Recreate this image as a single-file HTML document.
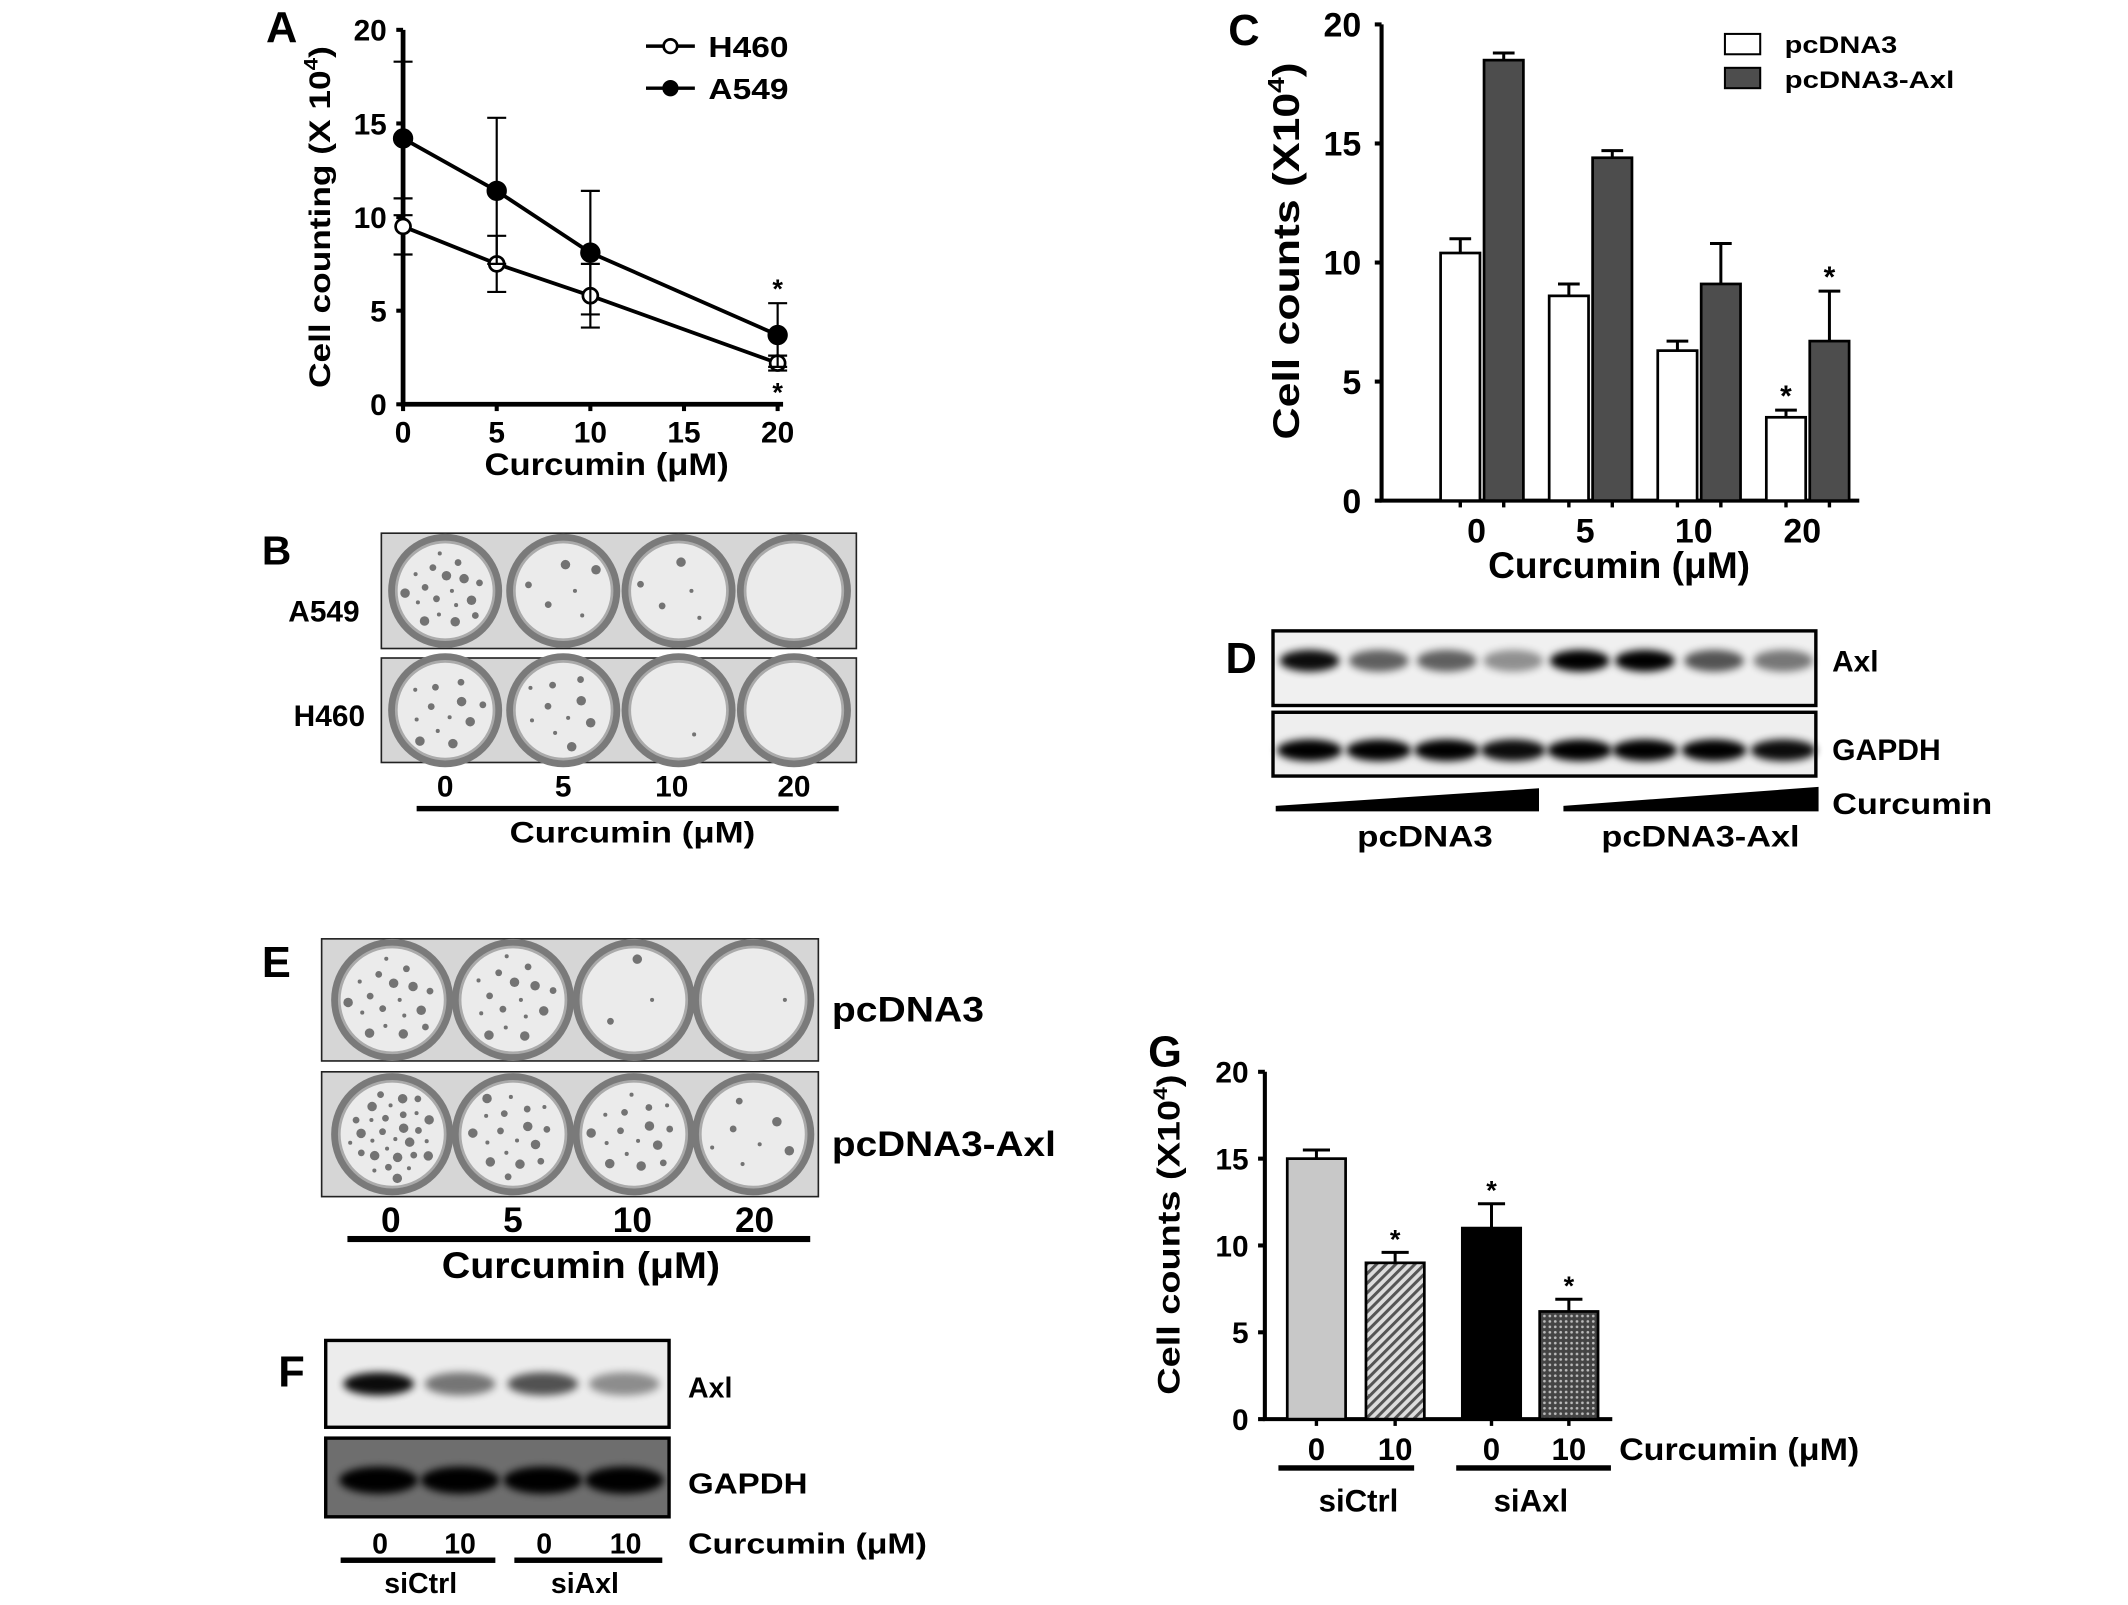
<!DOCTYPE html>
<html><head><meta charset="utf-8"><style>
html,body{margin:0;padding:0;background:#fff;}
svg{display:block;}
text{font-family:"Liberation Sans",Arial,sans-serif;font-weight:bold;fill:#000;}
</style></head><body>
<svg id="fig" width="2128" height="1605" viewBox="0 0 1568 1183" preserveAspectRatio="none" xmlns="http://www.w3.org/2000/svg">
<defs>
<filter id="blur2" x="-50%" y="-100%" width="200%" height="300%"><feGaussianBlur stdDeviation="3"/></filter>
<pattern id="hatch" width="5" height="5" patternUnits="userSpaceOnUse" patternTransform="rotate(45)"><rect width="5" height="5" fill="#ddd"/><rect width="2.2" height="5" fill="#555"/></pattern>
<pattern id="dots" width="4" height="4" patternUnits="userSpaceOnUse"><rect width="4" height="4" fill="#444"/><circle cx="2" cy="2" r="1" fill="#bbb"/></pattern>
</defs>

<g id="panelA">
<text x="196" y="31" font-size="32">A</text>
<text transform="translate(243,160) rotate(-90)" font-size="22" text-anchor="middle" textLength="252" lengthAdjust="spacingAndGlyphs">Cell counting (X 10<tspan dy="-9" font-size="14">4</tspan><tspan dy="9">)</tspan></text>
<text x="447" y="350" font-size="23" text-anchor="middle" textLength="180" lengthAdjust="spacingAndGlyphs">Curcumin (μM)</text>
<line x1="476" y1="34" x2="512" y2="34" stroke="#000" stroke-width="2.5"/>
<circle cx="494" cy="34" r="5" fill="#fff" stroke="#000" stroke-width="2"/>
<text x="522" y="42" font-size="21" textLength="59" lengthAdjust="spacingAndGlyphs">H460</text>
<line x1="476" y1="65" x2="512" y2="65" stroke="#000" stroke-width="2.5"/>
<circle cx="494" cy="65" r="6" fill="#000"/>
<text x="522" y="73" font-size="21" textLength="59" lengthAdjust="spacingAndGlyphs">A549</text>
</g>

<g id="panelB">
<text x="193" y="416" font-size="30">B</text>
<text x="265" y="458" font-size="22" text-anchor="end">A549</text>
<text x="269" y="535" font-size="22" text-anchor="end">H460</text>
<g id="bplates"></g>
<text x="328" y="587" font-size="22" text-anchor="middle">0</text>
<text x="415" y="587" font-size="22" text-anchor="middle">5</text>
<text x="495" y="587" font-size="22" text-anchor="middle">10</text>
<text x="585" y="587" font-size="22" text-anchor="middle">20</text>
<rect x="307" y="594" width="311" height="4" fill="#000"/>
<text x="466" y="621" font-size="22" text-anchor="middle" textLength="181" lengthAdjust="spacingAndGlyphs">Curcumin (μM)</text>
</g>

<g id="panelC">
<text x="905" y="33" font-size="32">C</text>
<text transform="translate(957,185) rotate(-90)" font-size="27" text-anchor="middle" textLength="278" lengthAdjust="spacingAndGlyphs">Cell counts (X10<tspan dy="-11" font-size="17">4</tspan><tspan dy="11">)</tspan></text>
<text x="1193" y="426" font-size="27" text-anchor="middle" textLength="193" lengthAdjust="spacingAndGlyphs">Curcumin (μM)</text>
<rect x="1271" y="25" width="26" height="15" fill="#fff" stroke="#000" stroke-width="1.5"/>
<text x="1315" y="39" font-size="18" textLength="83" lengthAdjust="spacingAndGlyphs">pcDNA3</text>
<rect x="1271" y="50" width="26" height="15" fill="#4d4d4d" stroke="#000" stroke-width="1.5"/>
<text x="1315" y="65" font-size="18" textLength="125" lengthAdjust="spacingAndGlyphs">pcDNA3-Axl</text>
</g>

<g id="panelD">
<text x="903" y="496" font-size="32">D</text>
<rect x="938" y="465" width="400" height="55" fill="#f0f0f0" stroke="#000" stroke-width="2.5"/>
<rect x="938" y="525" width="400" height="47" fill="#eee" stroke="#000" stroke-width="2.5"/>
<g id="dbands"></g>
<text x="1350" y="495" font-size="22">Axl</text>
<text x="1350" y="560" font-size="22" textLength="80" lengthAdjust="spacingAndGlyphs">GAPDH</text>
<path d="M940,594 L940,598 L1134,598 L1134,581 Z" fill="#000"/>
<path d="M1152,594 L1152,598 L1340,598 L1340,580 Z" fill="#000"/>
<text x="1350" y="600" font-size="22" textLength="118" lengthAdjust="spacingAndGlyphs">Curcumin</text>
<text x="1050" y="624" font-size="22" text-anchor="middle" textLength="100" lengthAdjust="spacingAndGlyphs">pcDNA3</text>
<text x="1253" y="624" font-size="22" text-anchor="middle" textLength="146" lengthAdjust="spacingAndGlyphs">pcDNA3-Axl</text>
</g>

<g id="panelE">
<text x="193" y="720" font-size="32">E</text>
<g id="eplates"></g>
<text x="613" y="753" font-size="26" textLength="112" lengthAdjust="spacingAndGlyphs">pcDNA3</text>
<text x="613" y="852" font-size="26" textLength="165" lengthAdjust="spacingAndGlyphs">pcDNA3-Axl</text>
<text x="288" y="908" font-size="26" text-anchor="middle">0</text>
<text x="378" y="908" font-size="26" text-anchor="middle">5</text>
<text x="466" y="908" font-size="26" text-anchor="middle">10</text>
<text x="556" y="908" font-size="26" text-anchor="middle">20</text>
<rect x="256" y="911" width="341" height="4.5" fill="#000"/>
<text x="428" y="942" font-size="27" text-anchor="middle" textLength="205" lengthAdjust="spacingAndGlyphs">Curcumin (μM)</text>
</g>

<g id="panelF">
<text x="205" y="1022" font-size="32">F</text>
<rect x="240" y="988" width="253" height="64" fill="#ececec" stroke="#000" stroke-width="2.5"/>
<rect x="240" y="1060" width="253" height="58" fill="#6e6e6e" stroke="#000" stroke-width="2.5"/>
<g id="fbands"></g>
<text x="507" y="1030" font-size="21">Axl</text>
<text x="507" y="1101" font-size="21" textLength="88" lengthAdjust="spacingAndGlyphs">GAPDH</text>
<text x="280" y="1145" font-size="21" text-anchor="middle">0</text>
<text x="339" y="1145" font-size="21" text-anchor="middle">10</text>
<text x="401" y="1145" font-size="21" text-anchor="middle">0</text>
<text x="461" y="1145" font-size="21" text-anchor="middle">10</text>
<text x="507" y="1145" font-size="21" textLength="176" lengthAdjust="spacingAndGlyphs">Curcumin (μM)</text>
<rect x="251" y="1148" width="114" height="4" fill="#000"/>
<rect x="379" y="1148" width="109" height="4" fill="#000"/>
<text x="310" y="1174" font-size="21" text-anchor="middle">siCtrl</text>
<text x="431" y="1174" font-size="21" text-anchor="middle">siAxl</text>
</g>

<g id="panelG">
<text x="846" y="786" font-size="32">G</text>
<text transform="translate(869,910) rotate(-90)" font-size="23" text-anchor="middle" textLength="236" lengthAdjust="spacingAndGlyphs">Cell counts (X10<tspan dy="-9" font-size="14">4</tspan><tspan dy="9">)</tspan></text>
<text x="1193" y="1076" font-size="23" textLength="177" lengthAdjust="spacingAndGlyphs">Curcumin (μM)</text>
<rect x="942" y="1080" width="100" height="4" fill="#000"/>
<rect x="1073" y="1080" width="114" height="4" fill="#000"/>
<text x="1001" y="1114" font-size="23" text-anchor="middle">siCtrl</text>
<text x="1128" y="1114" font-size="23" text-anchor="middle">siAxl</text>
</g>
</svg>

<script>
// ---------- Panel A data ----------
const aDoses = [0, 5, 10, 20];
const aXTicks = [0, 5, 10, 15, 20];
const aYTicks = [0, 5, 10, 15, 20];
const aH460 = [9.5, 7.5, 5.8, 2.2];
const aH460Err = [1.5, 1.5, 1.7, 0.4];
const aA549 = [14.2, 11.4, 8.1, 3.7];
const aA549Err = [4.1, 3.9, 3.3, 1.7];
// ---------- Panel C data ----------
const cCategories = ["0", "5", "10", "20"];
const cPcdna3 = [10.4, 8.6, 6.3, 3.5];
const cPcdna3Err = [0.6, 0.5, 0.4, 0.3];
const cAxl = [18.5, 14.4, 9.1, 6.7];
const cAxlErr = [0.3, 0.3, 1.7, 2.1];
const cYTicks = [0, 5, 10, 15, 20];
const cStarWhite = [false, false, false, true];
const cStarDark = [false, false, false, true];
// ---------- Panel G data ----------
const gCategories = ["0", "10", "0", "10"];
const gValues = [15.0, 9.0, 11.0, 6.2];
const gErr = [0.5, 0.6, 1.4, 0.7];
const gStars = [false, true, true, true];
const gYTicks = [0, 5, 10, 15, 20];
// ---------- Blot intensities ----------
const dAxl = [0.95, 0.6, 0.6, 0.4, 1.0, 1.0, 0.65, 0.5];
const dGapdh = [1, 1, 1, 0.95, 1, 1, 1, 0.95];
const fAxl = [0.95, 0.5, 0.65, 0.4];
const fGapdh = [1, 1, 1, 1];

const NS = "http://www.w3.org/2000/svg";
const fig = document.getElementById('fig');
function mk(tag, attrs, parent) {
  const e = document.createElementNS(NS, tag);
  for (const k in attrs) e.setAttribute(k, attrs[k]);
  (parent || fig).appendChild(e);
  return e;
}

(function(){
  const g = document.getElementById('panelA');
  const x0 = 297, x1 = 573, y0 = 298, y1 = 22;
  const xs = v => x0 + v / 20 * (x1 - x0);
  const ys = v => y0 - v / 20 * (y0 - y1);
  const ax = mk('path', {d:`M${x0},${y1} L${x0},${y0} L${x1+4},${y0}`, fill:'none', stroke:'#000', 'stroke-width':3.5}, g);
  
  
  aYTicks.forEach(v => {
    const t = mk('line', {x1:x0-5, x2:x0, y1:ys(v), y2:ys(v), stroke:'#000','stroke-width':3}, g);
    
    
    const l = mk('text', {x:x0-12, y:ys(v)+8, 'font-size':22, 'text-anchor':'end'}, g);
    l.textContent = v;
    
    
  });
  aXTicks.forEach(v => {
    const t = mk('line', {x1:xs(v), x2:xs(v), y1:y0, y2:y0+5, stroke:'#000','stroke-width':3}, g);
    
    
    const l = mk('text', {x:xs(v), y:y0+28, 'font-size':22, 'text-anchor':'middle'}, g);
    l.textContent = v;
    
    
  });
  function series(vals, errs, filled, name) {
    errs.forEach((e, i) => {
      const x = xs(aDoses[i]);
      const eb = mk('path', {d:`M${x},${ys(vals[i]+e)} L${x},${ys(vals[i]-e)} M${x-7},${ys(vals[i]+e)} L${x+7},${ys(vals[i]+e)} M${x-7},${ys(vals[i]-e)} L${x+7},${ys(vals[i]-e)}`, stroke:'#000','stroke-width':1.6, fill:'none'}, g);
      
      
    });
    const pl = mk('polyline', {points: vals.map((v,i)=>xs(aDoses[i])+','+ys(v)).join(' '), fill:'none', stroke:'#000','stroke-width':2.8}, g);
    
    
    vals.forEach((v,i) => {
      const c = mk('circle', {cx:xs(aDoses[i]), cy:ys(v), r: filled?6.5:5.5, fill: filled?'#000':'#fff', stroke:'#000','stroke-width':2}, g);
      
      
    });
  }
  series(aH460, aH460Err, false, 'h460');
  series(aA549, aA549Err, true, 'a549');
  const s1 = mk('text', {x:xs(20), y:ys(aA549[3]+aA549Err[3])-4, 'font-size':20, 'text-anchor':'middle'}, g);
  s1.textContent = '*';
  
  
  const s2 = mk('text', {x:xs(20), y:ys(0)-2, 'font-size':20, 'text-anchor':'middle'}, g);
  s2.textContent = '*';
  
  
})();

function plates(parentId, rows, centers, rowNames, colonyCounts, diam) {
  const g = document.getElementById(parentId);
  rows.forEach((r, ri) => {
    const bg = mk('rect', {x:r.x, y:r.y, width:r.w, height:r.h, fill:'#d6d6d6', stroke:'#222','stroke-width':1.2}, g);
    
    
    centers.forEach((cx, ci) => {
      const cy = r.y + r.h/2;
      const rad = diam/2;
      const well = mk('circle', {cx:cx, cy:cy, r:rad, fill:'#7a7a7a'}, g);
      
      
      const inner = mk('circle', {cx:cx, cy:cy, r:rad-6, fill:'#ebebeb', stroke:'#aaa','stroke-width':2}, g);
      
      
      const n = colonyCounts[ri][ci];
      for (let k = 0; k < n; k++) {
        const ang = k * 2.399 + ri, rr = (rad-12) * Math.sqrt((k+0.5)/Math.max(n,1));
        const col = mk('circle', {cx:cx + rr*Math.cos(ang), cy:cy + rr*Math.sin(ang), r: 1.5 + (k%3), fill:'#555', opacity:0.8}, g);
        
        
      }
    });
  });
}
plates('bplates', [{x:281,y:393,w:350,h:85},{x:281,y:485,w:350,h:77}], [328,415,500,585], ['a549','h460'], [[18,6,5,0],[12,10,1,0]], 84);
plates('eplates', [{x:237,y:692,w:366,h:90},{x:237,y:790,w:366,h:92}], [289,378,467,555], ['pcdna3','pcdna3-axl'], [[18,16,3,1],[30,18,16,7]], 90);

(function(){
  const g = document.getElementById('panelC');
  const x0 = 1018, x1 = 1370, y0 = 369, y1 = 18;
  const ys = v => y0 - v/20*(y0-y1);
  const groupX = i => 1092 + i*80;
  const bw = 29;
  const ax = mk('path', {d:`M${x0},${y1} L${x0},${y0} L${x1},${y0}`, fill:'none', stroke:'#000','stroke-width':3}, g);
  
  
  cYTicks.forEach(v => {
    const t = mk('line', {x1:x0-5,x2:x0,y1:ys(v),y2:ys(v),stroke:'#000','stroke-width':3}, g);
    
    
    const l = mk('text', {x:x0-15, y:ys(v)+9, 'font-size':25, 'text-anchor':'end'}, g);
    l.textContent = v;
    
    
  });
  function bar(cx, v, e, fill, name, star) {
    const top = ys(v + e);
    const eb = mk('path', {d:`M${cx},${ys(v)} L${cx},${top} M${cx-8},${top} L${cx+8},${top}`, stroke:'#000','stroke-width':2.2}, g);
    
    
    const r = mk('rect', {x:cx-bw/2, y:ys(v), width:bw, height:y0-ys(v), fill:fill, stroke:'#000','stroke-width':2}, g);
    
    
    if (star) {
      const s = mk('text', {x:cx, y:top-3, 'font-size':22, 'text-anchor':'middle'}, g);
      s.textContent = '*';
      
      
    }
  }
  cCategories.forEach((c, i) => {
    const cx = groupX(i);
    bar(cx - 16, cPcdna3[i], cPcdna3Err[i], '#fff', 'bar-pcdna3-' + c, cStarWhite[i]);
    bar(cx + 16, cAxl[i], cAxlErr[i], '#4d4d4d', 'bar-pcdna3-axl-' + c, cStarDark[i]);
    [cx-16, cx+16].forEach(tx => {
      const t = mk('line', {x1:tx,x2:tx,y1:y0,y2:y0+5,stroke:'#000','stroke-width':2.5}, g);
      
      
    });
    const l = mk('text', {x:cx-4, y:400, 'font-size':25, 'text-anchor':'middle'}, g);
    l.textContent = c;
    
    
  });
})();

(function(){
  const g = document.getElementById('panelG');
  const x0 = 932, x1 = 1188, y0 = 1046, y1 = 790;
  const ys = v => y0 - v/20*(y0-y1);
  const centers = [970, 1028, 1099, 1156];
  const fills = ['#c8c8c8', 'url(#hatch)', '#000', 'url(#dots)'];
  const bw = 43;
  const ax = mk('path', {d:`M${x0},${y1} L${x0},${y0} L${x1},${y0}`, fill:'none', stroke:'#000','stroke-width':3}, g);
  
  
  gYTicks.forEach(v => {
    const t = mk('line', {x1:x0-5,x2:x0,y1:ys(v),y2:ys(v),stroke:'#000','stroke-width':3}, g);
    
    
    const l = mk('text', {x:x0-12, y:ys(v)+8, 'font-size':22, 'text-anchor':'end'}, g);
    l.textContent = v;
    
    
  });
  gCategories.forEach((c, i) => {
    const cx = centers[i], v = gValues[i], top = ys(v + gErr[i]);
    const eb = mk('path', {d:`M${cx},${ys(v)} L${cx},${top} M${cx-10},${top} L${cx+10},${top}`, stroke:'#000','stroke-width':2.2}, g);
    
    
    const r = mk('rect', {x:cx-bw/2, y:ys(v), width:bw, height:y0-ys(v), fill:fills[i], stroke:'#000','stroke-width':2}, g);
    
    
    if (gStars[i]) {
      const s = mk('text', {x:cx, y:top-3, 'font-size':20, 'text-anchor':'middle'}, g);
      s.textContent = '*';
      
      
    }
    const t = mk('line', {x1:cx,x2:cx,y1:y0,y2:y0+5,stroke:'#000','stroke-width':2.5}, g);
    
    
    const l = mk('text', {x:cx, y:1076, 'font-size':23, 'text-anchor':'middle'}, g);
    l.textContent = c;
    
    
  });
})();

function bands(parentId, lanes, vals, cy, w, h, name) {
  const g = document.getElementById(parentId);
  vals.forEach((v, i) => {
    const b = mk('ellipse', {cx:lanes[i], cy:cy, rx:w/2, ry:h/2, fill:'#000', opacity:v, filter:'url(#blur2)'}, g);
    
    
  });
}
const dLanes = [965, 1016, 1066, 1115, 1164, 1212, 1263, 1314];
bands('dbands', dLanes, dAxl, 487, 44, 16, 'axl-d');
bands('dbands', dLanes, dGapdh, 553, 48, 16, 'gapdh-d');
const fLanes = [279, 339, 400, 460];
bands('fbands', fLanes, fAxl, 1020, 52, 17, 'axl-f');
bands('fbands', fLanes, fGapdh, 1091, 58, 20, 'gapdh-f');
</script>
</body></html>
